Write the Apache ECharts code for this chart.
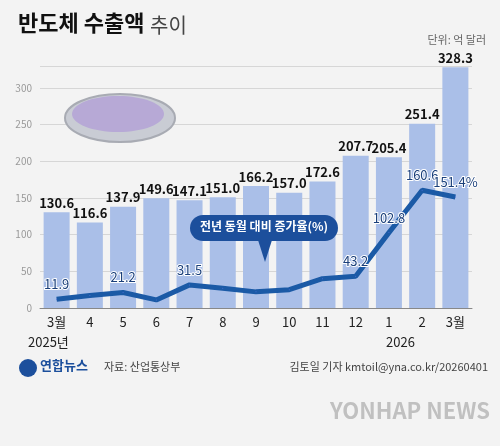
<!DOCTYPE html><html><head><meta charset="utf-8"><script src="https://cdn.jsdelivr.net/npm/echarts@6/dist/echarts.min.js"></script>
<style>body{margin:0;background:#f3f3f3}#c{width:500px;height:446px}</style></head><body><div id="c"></div><script>
const categories=['3월','4','5','6','7','8','9','10','11','12','1','2','3월'];
const exports=[130.6,116.6,137.9,149.6,147.1,151.0,166.2,157.0,172.6,207.7,205.4,251.4,328.3];
const growth=[11.9,17,21.2,11,31.5,27,22,25,40,43.2,102.8,160.6,151.4];
const growthLabelShown=[true,false,true,false,true,false,false,false,false,true,true,true,true];
const yTicks=[0,50,100,150,200,250,300];
const chart=echarts.init(document.getElementById('c'));
const F='"Noto Sans CJK KR",sans-serif';
chart.setOption({
backgroundColor:'#f3f3f3',
textStyle:{fontFamily:F},
grid:{left:40,right:28,top:66,bottom:138},
xAxis:{type:'category',data:categories,axisTick:{show:false},axisLine:{lineStyle:{color:'#888'}},
 axisLabel:{color:'#222',fontSize:13,margin:8}},
yAxis:{type:'value',min:0,max:330,interval:50,axisLabel:{color:'#999',fontSize:10,showMaxLabel:false,formatter:v=>yTicks.includes(v)?v:''},
 splitLine:{lineStyle:{color:'#d6d6d6'}}},
series:[
{type:'bar',data:exports,barWidth:26,itemStyle:{color:'#aabfe8'},
 label:{show:true,position:'top',color:'#111',fontSize:13,fontWeight:'bold',letterSpacing:-0.5,distance:3,formatter:p=>p.value.toFixed(1)}},
{type:'line',data:growth.map((v,i)=>({value:v,label:{show:growthLabelShown[i]}})),symbol:'circle',symbolSize:1,lineStyle:{color:'#1b5aa6',width:5},z:5,
 label:{show:true,position:'top',color:'#1a3f7a',fontSize:13,distance:8,textBorderColor:'#fff',textBorderWidth:2,formatter:p=>p.value.toFixed(1)+(p.dataIndex===12?'%':'')}}
],
graphic:[
{type:'text',left:18,top:12,style:{text:'반도체 수출액',font:'bold 22px '+F,fill:'#111'}},
{type:'text',left:150,top:15,style:{text:'추이',font:'20px '+F,fill:'#444'}},
{type:'text',right:14,top:34,style:{text:'단위: 억 달러',font:'11px '+F,fill:'#666'}},
{type:'ellipse',zlevel:1,shape:{cx:120,cy:118,rx:55,ry:24},style:{fill:'#c9ccd4',stroke:'#a8abb3',lineWidth:2}},
{type:'ellipse',zlevel:1,shape:{cx:118,cy:114,rx:46,ry:18},style:{fill:'#b7a9d6'}},
{type:'text',left:28,top:336,style:{text:'2025년',font:'13px '+F,fill:'#222'}},
{type:'text',left:386,top:336,style:{text:'2026',font:'13px '+F,fill:'#222'}},
{type:'rect',zlevel:1,shape:{x:190,y:215,width:148,height:26,r:13},style:{fill:'#1c4f9c'}},
{type:'polygon',zlevel:1,shape:{points:[[258,240],[272,240],[265,262]]},style:{fill:'#1c4f9c'}},
{type:'text',zlevel:1,z:10,x:200,y:220,style:{text:'전년 동월 대비 증가율(%)',font:'bold 12px '+F,fill:'#fff'}},
{type:'circle',shape:{cx:28,cy:368,r:9},style:{fill:'#1c4f9c'}},
{type:'text',left:40,top:359,style:{text:'연합뉴스',font:'bold 13px '+F,fill:'#1c4f9c'}},
{type:'text',left:104,top:361,style:{text:'자료: 산업통상부',font:'11px '+F,fill:'#444'}},
{type:'text',right:12,top:361,style:{text:'김토일 기자 kmtoil@yna.co.kr/20260401',font:'11px '+F,fill:'#444'}},
{type:'text',left:330,top:400,style:{text:'YONHAP NEWS',font:'bold 22px '+F,fill:'rgba(150,150,150,0.55)'}}
]
});
</script></body></html>
